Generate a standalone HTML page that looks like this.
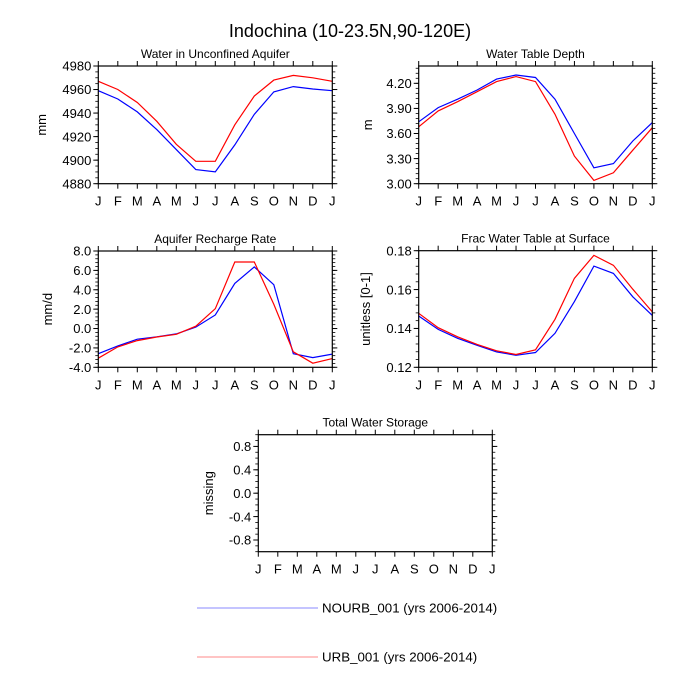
<!DOCTYPE html>
<html><head><meta charset="utf-8"><style>
html,body{margin:0;padding:0;background:#fff;}
svg{display:block;font-family:"Liberation Sans",Arial,sans-serif;}
</style></head><body>
<svg id="chart" width="700" height="700" viewBox="0 0 700 700">
<text x="350" y="37" text-anchor="middle" font-size="18">Indochina (10-23.5N,90-120E)</text>
<g id="panels"></g>
<g>
<line x1="197" y1="608" x2="318" y2="608" stroke="#8888ff" stroke-width="1"/>
<text x="322" y="612.5" font-size="13.3">NOURB_001 (yrs 2006-2014)</text>
<line x1="197" y1="657" x2="318" y2="657" stroke="#ff8888" stroke-width="1"/>
<text x="322" y="661.5" font-size="13.3">URB_001 (yrs 2006-2014)</text>
</g>
</svg>
<script>
const months = ["J","F","M","A","M","J","J","A","S","O","N","D","J"];
const aquiferNourb = [4959,4952,4941,4926,4909,4892,4890,4913,4939,4958,4962.5,4960.5,4959];
const aquiferUrb = [4967,4960,4949,4933,4913.5,4899,4899,4930,4954.5,4968,4972,4970,4967];
const depthNourb = [3.74,3.91,4.01,4.12,4.25,4.30,4.27,4.01,3.60,3.19,3.24,3.51,3.73];
const depthUrb = [3.68,3.87,3.98,4.10,4.22,4.28,4.22,3.83,3.33,3.04,3.13,3.40,3.67];
const rechargeNourb = [-2.6,-1.8,-1.1,-0.85,-0.55,0.15,1.4,4.66,6.36,4.52,-2.6,-3.0,-2.64];
const rechargeUrb = [-3.06,-1.9,-1.25,-0.87,-0.6,0.24,2.05,6.87,6.87,2.5,-2.4,-3.58,-3.1];
const fracNourb = [0.1464,0.1395,0.1349,0.1313,0.1279,0.1262,0.1276,0.1375,0.1538,0.1721,0.1683,0.1563,0.1467];
const fracUrb = [0.1478,0.1404,0.1357,0.1318,0.1285,0.1266,0.1290,0.1447,0.1658,0.1776,0.1725,0.1602,0.1485];
const ticks1 = ["4880","4900","4920","4940","4960","4980"];
const ticks2 = ["3.00","3.30","3.60","3.90","4.20"];
const ticks3 = ["-4.0","-2.0","0.0","2.0","4.0","6.0","8.0"];
const ticks4 = ["0.12","0.14","0.16","0.18"];
const ticks5 = ["-0.8","-0.4","0.0","0.4","0.8"];

const NS="http://www.w3.org/2000/svg";
const root=document.getElementById('panels');
function mk(tag,attrs,parent){const e=document.createElementNS(NS,tag);for(const k in attrs)e.setAttribute(k,attrs[k]);parent.appendChild(e);return e;}

function panel(cfg){
  const g=mk('g',{},root);
  
  
  const {x0,x1,y0,y1,ymin,ymax}=cfg;
  const sx=i=>x0+(x1-x0)*i/12;
  const sy=v=>y1-(y1-y0)*(v-ymin)/(ymax-ymin);
  const t=mk('text',{x:(x0+x1)/2,y:y0-8,'text-anchor':'middle','font-size':12},g);
  t.textContent=cfg.title;
  
  
  for(let v=ymin;v<=ymax+1e-9;v+=cfg.minor){
    const y=sy(v);
    mk('line',{x1:x0-3,y1:y,x2:x0,y2:y,stroke:'#000','stroke-width':0.8},g);
    mk('line',{x1:x1,y1:y,x2:x1+3,y2:y,stroke:'#000','stroke-width':0.8},g);
  }
  cfg.ticks.forEach(lbl=>{
    const y=sy(parseFloat(lbl));
    mk('line',{x1:x0-5,y1:y,x2:x0,y2:y,stroke:'#000','stroke-width':1},g);
    mk('line',{x1:x1,y1:y,x2:x1+5,y2:y,stroke:'#000','stroke-width':1},g);
    const tx=mk('text',{x:x0-7,y:y+4.7,'text-anchor':'end','font-size':13},g);
    tx.textContent=lbl;
    
    
  });
  months.forEach((m,i)=>{
    const x=sx(i);
    mk('line',{x1:x,y1:y1,x2:x,y2:y1+5,stroke:'#000','stroke-width':1},g);
    mk('line',{x1:x,y1:y0-5,x2:x,y2:y0,stroke:'#000','stroke-width':1},g);
    const tx=mk('text',{x:x,y:y1+22,'text-anchor':'middle','font-size':13},g);
    tx.textContent=m;
    
    
  });
  const yl=mk('text',{x:0,y:0,'text-anchor':'middle','font-size':13,transform:`translate(${cfg.ylx},${(y0+y1)/2}) rotate(-90)`},g);
  yl.textContent=cfg.ylabel;
  
  
  [[cfg.blue,'#0000ff','line-nourb'],[cfg.red,'#ff0000','line-urb']].forEach(([d,c,n])=>{
    if(!d)return;
    const p=mk('polyline',{points:d.map((v,i)=>sx(i).toFixed(1)+','+sy(v).toFixed(1)).join(' '),fill:'none',stroke:c,'stroke-width':1.2},g);
    
    
  });
  const fr=mk('rect',{x:x0,y:y0,width:x1-x0,height:y1-y0,fill:'none',stroke:'#000','stroke-width':1.2},g);
  
  
}
panel({name:'panel-water-aquifer',title:'Water in Unconfined Aquifer',x0:98.3,x1:332.3,y0:66,y1:183.7,ymin:4880,ymax:4980,minor:5,ticks:ticks1,ylabel:'mm',ylx:46,blue:aquiferNourb,red:aquiferUrb});
panel({name:'panel-water-table-depth',title:'Water Table Depth',x0:418.7,x1:652.3,y0:66,y1:183.7,ymin:3.0,ymax:4.407,minor:0.06,ticks:ticks2,ylabel:'m',ylx:372,blue:depthNourb,red:depthUrb});
panel({name:'panel-recharge-rate',title:'Aquifer Recharge Rate',x0:98.3,x1:332.3,y0:251,y1:367.3,ymin:-4,ymax:8,minor:0.4,ticks:ticks3,ylabel:'mm/d',ylx:52,blue:rechargeNourb,red:rechargeUrb});
panel({name:'panel-frac-water-table',title:'Frac Water Table at Surface',x0:418.7,x1:652.3,y0:250.7,y1:367.3,ymin:0.12,ymax:0.18,minor:0.004,ticks:ticks4,ylabel:'unitless [0-1]',ylx:370,blue:fracNourb,red:fracUrb});
panel({name:'panel-total-water-storage',title:'Total Water Storage',x0:258.3,x1:492.3,y0:434.7,y1:551.7,ymin:-1,ymax:1,minor:0.1,ticks:ticks5,ylabel:'missing',ylx:213,blue:null,red:null});
</script>
</body></html>
